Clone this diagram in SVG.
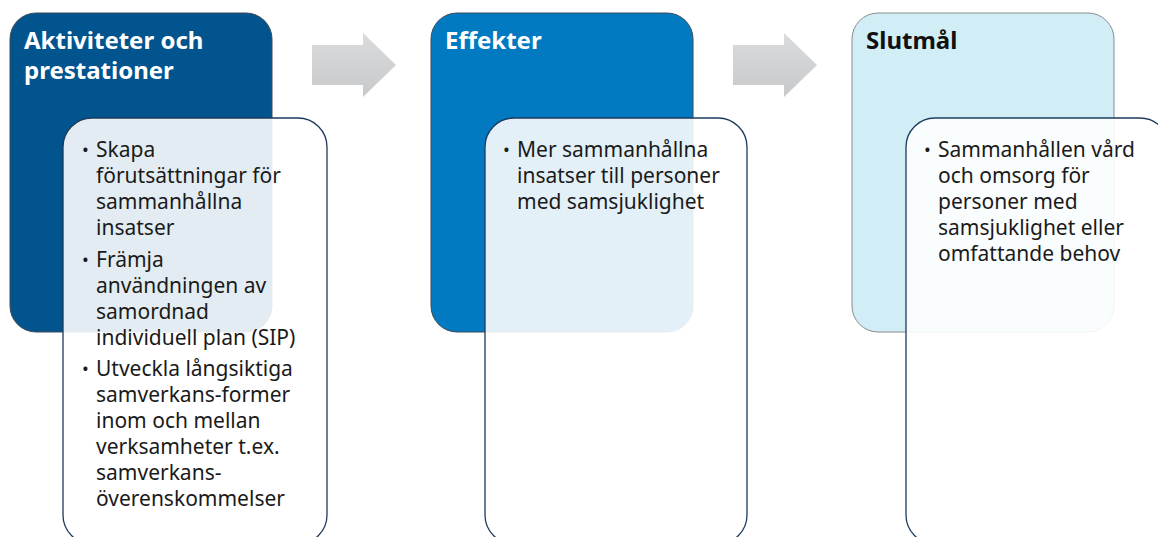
<svg xmlns="http://www.w3.org/2000/svg" width="1158" height="537" viewBox="0 0 1158 537">
<defs>
<linearGradient id="ag" x1="0" y1="0" x2="0" y2="1">
<stop offset="0" stop-color="#dadbdc"/>
<stop offset="1" stop-color="#c7c9cb"/>
</linearGradient>
<style>
.hd{font-family:"Noto Sans","Open Sans",sans-serif;font-weight:bold;font-size:24px}
.bt{font-family:"Noto Sans","Open Sans",sans-serif;font-size:21px;fill:#1a1a1a}
.bl{font-size:18px}
.inner{fill:#ffffff;fill-opacity:0.89;stroke:#1c3b5e;stroke-width:1.3}
.arrow{fill:url(#ag)}
</style>
</defs>
<rect width="1158" height="537" fill="#ffffff"/>
<g id="connectors">
<path class="arrow" d="M312,45 H363 V33 L396,65 L363,97 V85 H312 Z"/>
<path class="arrow" d="M733,45 H784 V33 L817,65 L784,97 V85 H733 Z"/>
</g>
<g id="node-aktiviteter">
<rect x="10" y="13" width="262" height="319" rx="26" fill="#02548f" stroke="#3d4b59" stroke-width="1"/>
<text class="hd" fill="#ffffff"><tspan x="24" y="49">Aktiviteter och</tspan><tspan x="24" y="79">prestationer</tspan></text>
</g>
<g id="node-aktiviteter-list">
<rect class="inner" x="63" y="118" width="264" height="426" rx="29"/>
<text class="bt">
<tspan class="bl" x="82" y="156">•</tspan><tspan x="96" y="157">Skapa</tspan>
<tspan x="96" y="183">förutsättningar för</tspan>
<tspan x="96" y="209">sammanhållna</tspan>
<tspan x="96" y="235">insatser</tspan>
<tspan class="bl" x="82" y="266">•</tspan><tspan x="96" y="267">Främja</tspan>
<tspan x="96" y="293">användningen av</tspan>
<tspan x="96" y="319">samordnad</tspan>
<tspan x="96" y="345">individuell plan (SIP)</tspan>
<tspan class="bl" x="82" y="375">•</tspan><tspan x="96" y="376">Utveckla långsiktiga</tspan>
<tspan x="96" y="402">samverkans-former</tspan>
<tspan x="96" y="428">inom och mellan</tspan>
<tspan x="96" y="454">verksamheter t.ex.</tspan>
<tspan x="96" y="480">samverkans-</tspan>
<tspan x="96" y="506">överenskommelser</tspan>
</text>
</g>
<g id="node-effekter">
<rect x="431" y="13" width="262" height="319" rx="26" fill="#027ac1" stroke="#3d4b59" stroke-width="1"/>
<text class="hd" fill="#ffffff" x="445" y="49">Effekter</text>
</g>
<g id="node-effekter-list">
<rect class="inner" x="485" y="118" width="262" height="426" rx="29"/>
<text class="bt">
<tspan class="bl" x="503" y="156">•</tspan><tspan x="517" y="157">Mer sammanhållna</tspan>
<tspan x="517" y="183">insatser till personer</tspan>
<tspan x="517" y="209">med samsjuklighet</tspan>
</text>
</g>
<g id="node-slutmal">
<rect x="852" y="13" width="262" height="319" rx="26" fill="#d1edf5" stroke="#8a8d90" stroke-width="1"/>
<text class="hd" fill="#111111" x="866" y="49">Slutmål</text>
</g>
<g id="node-slutmal-list">
<rect class="inner" x="906" y="118" width="263" height="426" rx="29"/>
<text class="bt">
<tspan class="bl" x="924" y="156">•</tspan><tspan x="938" y="157">Sammanhållen vård</tspan>
<tspan x="938" y="183">och omsorg för</tspan>
<tspan x="938" y="209">personer med</tspan>
<tspan x="938" y="235">samsjuklighet eller</tspan>
<tspan x="938" y="261">omfattande behov</tspan>
</text>
</g>
</svg>
